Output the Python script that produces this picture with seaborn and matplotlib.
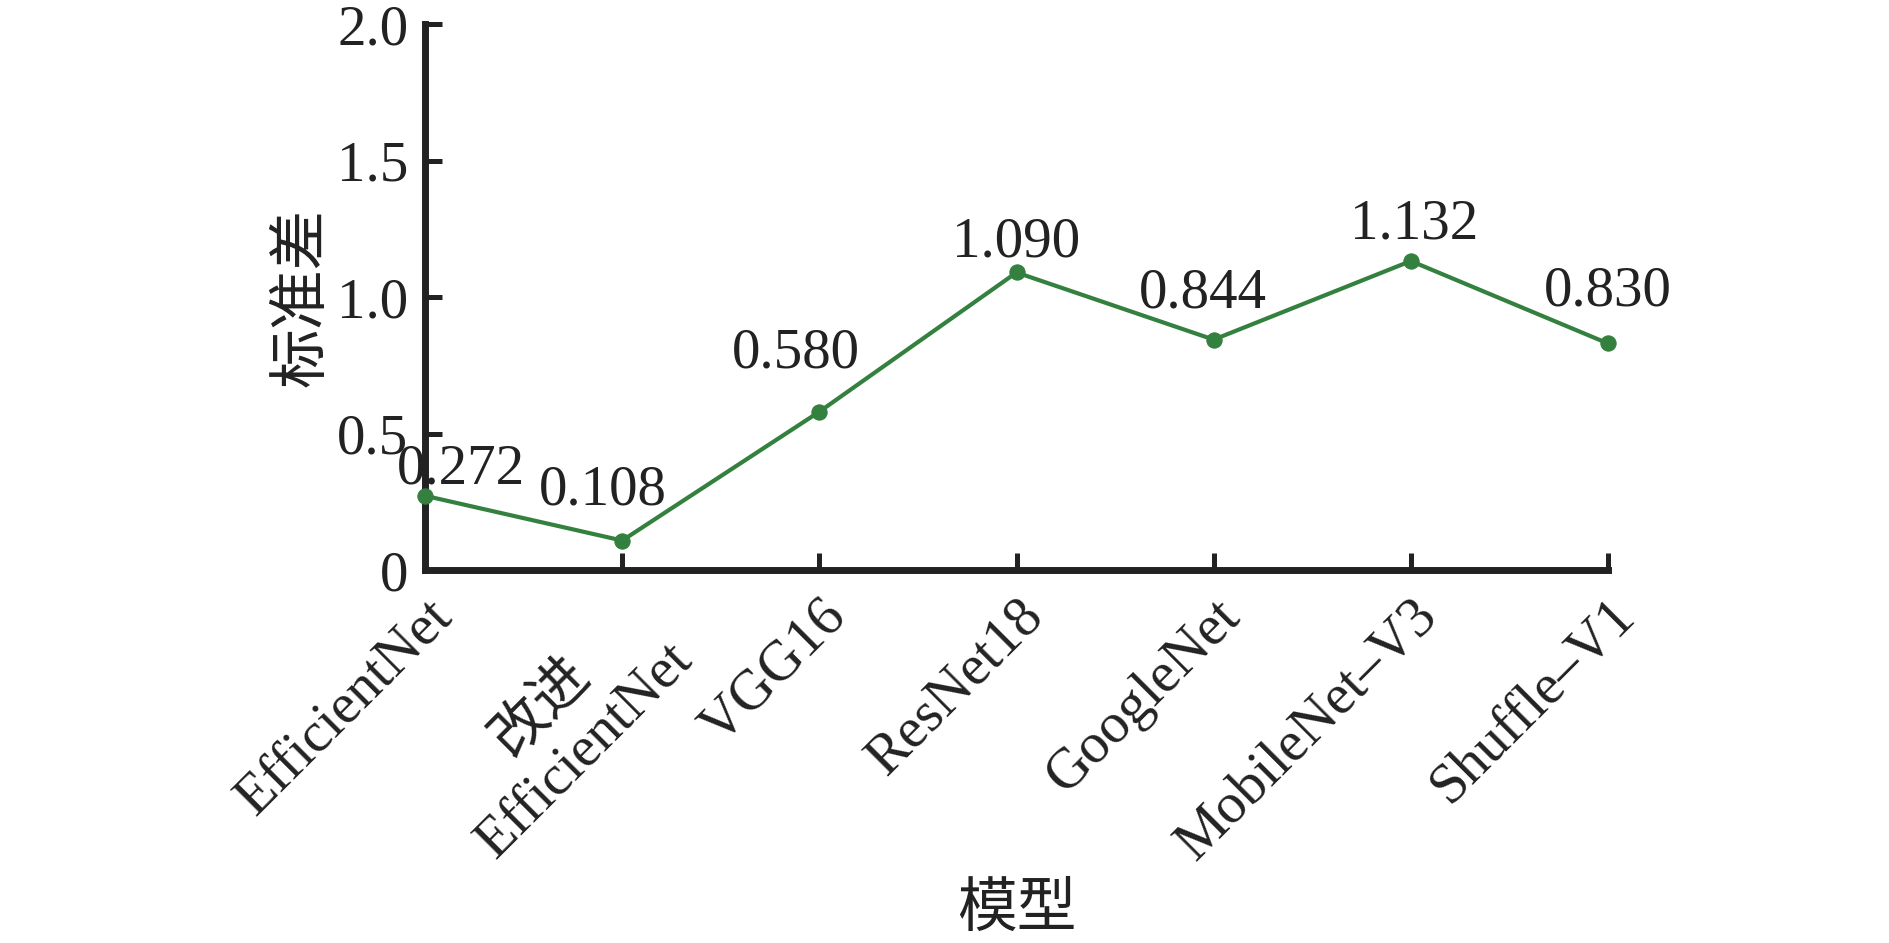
# %% Libraries
import matplotlib
matplotlib.use("Agg")
import pandas as pd
import matplotlib.pyplot as plt
import seaborn as sns

# %% Data
models = ["EfficientNet", "改进\nEfficientNet", "VGG16", "ResNet18",
          "GoogleNet", "MobileNet–V3", "Shuffle–V1"]
std_values = [0.272, 0.108, 0.580, 1.090, 0.844, 1.132, 0.830]
y_ticks = [0, 0.5, 1.0, 1.5, 2.0]
y_tick_labels = ["0", "0.5", "1.0", "1.5", "2.0"]

df = pd.DataFrame({"model": models, "std": std_values})
df["pos"] = range(len(df))

# %% Style
sns.set_theme(style="white")
plt.rcParams['font.family'] = ['Liberation Serif', 'Noto Sans CJK SC']
plt.rcParams['axes.unicode_minus'] = False

green = "#34803f"
dark = "#222222"
fs = 41

fig = plt.figure(figsize=(18.9, 9.43), dpi=100)
ax = fig.add_axes([0.2249, 0.3955, 0.8508 - 0.2249, 0.9745 - 0.3955])

sns.lineplot(data=df, x="pos", y="std", ax=ax, color=green, linewidth=3,
             marker="o", markersize=11, markeredgecolor=green, clip_on=False,
             zorder=5)

# value labels, offsets in points (x, baseline above point)
offsets = [(26, 9), (-14, 26), (-17, 32), (0, 11.5), (-8, 23), (2, 16), (0, 27)]
for xi, yi, off in zip(df["pos"], df["std"], offsets):
    ax.annotate(f"{yi:.3f}", (xi, yi), xytext=off, textcoords="offset points",
                ha="center", va="baseline", fontsize=fs, color=dark)

ax.set_xlim(0, len(models) - 1)
ax.set_ylim(0, 2.0)
ax.set_xticks(df["pos"])
ax.set_xticklabels(models, rotation=45, ha="right", rotation_mode="anchor",
                   fontsize=fs, multialignment="center")
ax.set_yticks(y_ticks)
ax.set_yticklabels(y_tick_labels, fontsize=fs)

ax.tick_params(axis="both", direction="in", length=12, width=3.6,
               colors=dark, bottom=True, left=True)
ax.tick_params(axis="x", pad=14)
ax.tick_params(axis="y", pad=12)

for side in ["top", "right"]:
    ax.spines[side].set_visible(False)
for side in ["left", "bottom"]:
    ax.spines[side].set_linewidth(5)
    ax.spines[side].set_color(dark)

ax.set_xlabel("模型", fontsize=fs + 2, color=dark)
ax.set_ylabel("标准差", fontsize=fs + 2, color=dark)
ax.xaxis.set_label_coords(0.5, -0.575)
ax.yaxis.set_label_coords(-0.079, 0.5)

fig.savefig("out.png", dpi=100, facecolor="white")
